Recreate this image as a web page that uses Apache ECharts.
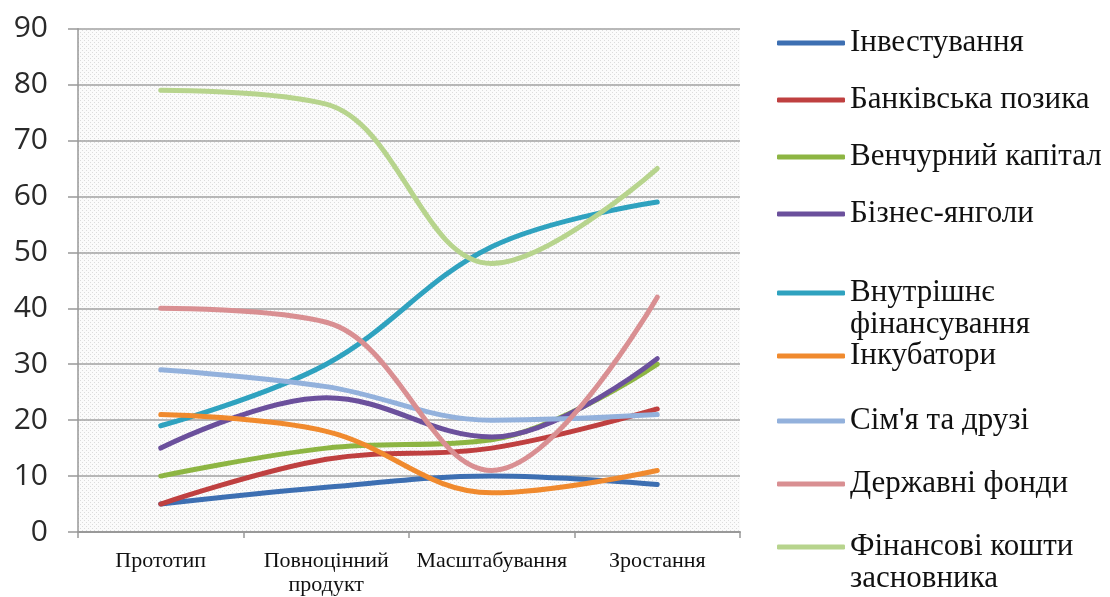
<!DOCTYPE html>
<html><head><meta charset="utf-8">
<script src="https://cdn.jsdelivr.net/npm/echarts@6/dist/echarts.min.js"></script>
<style>html,body{margin:0;padding:0;background:#fff}#c{width:1110px;height:597px}</style>
</head><body><div id="c"></div>
<script>
// ---- data ----
const categories = ['Прототип', 'Повноцінний\nпродукт', 'Масштабування', 'Зростання'];
const seriesNames = ['Інвестування', 'Банківська позика', 'Венчурний капітал', 'Бізнес-янголи',
  'Внутрішнє фінансування', 'Інкубатори', "Сім'я та друзі", 'Державні фонди', 'Фінансові кошти засновника'];
const investuvannia = [5, 8, 10, 8.5];
const bankivskaPozyka = [5, 13, 15, 22];
const venchurnyiKapital = [10, 15, 16.5, 30];
const biznesYanholy = [15, 24, 17, 31];
const vnutrishnieFinansuvannia = [19, 30, 51, 59];
const inkubatory = [21, 18, 7, 11];
const simiaTaDruzi = [29, 26, 20, 21];
const derzhavniFondy = [40, 37.5, 11, 42];
const finansoviKoshty = [79, 76.5, 48, 65];
const yMin = 0, yMax = 90, yStep = 10;

const seriesValues = [investuvannia, bankivskaPozyka, venchurnyiKapital, biznesYanholy,
  vnutrishnieFinansuvannia, inkubatory, simiaTaDruzi, derzhavniFondy, finansoviKoshty];

// ---- styles / layout ----
const colors = ['#3d6fb2', '#bf4040', '#8db543', '#6b509c', '#2fa2bf', '#f08a2e', '#93b1dc', '#d98f92', '#b7d48d'];
const legendCenters = [43, 100, 157, 214, 293, 356, 421, 484, 547];
const twoLine = [false, false, false, false, true, false, false, false, true];
const LH = 32;

const pc = document.createElement('canvas');
pc.width = 4; pc.height = 4;
const pctx = pc.getContext('2d');
pctx.fillStyle = '#fbfbfb'; pctx.fillRect(0, 0, 4, 4);
pctx.fillStyle = '#dcdcdc'; pctx.fillRect(0, 0, 1, 1); pctx.fillRect(2, 2, 1, 1);

const chart = echarts.init(document.getElementById('c'), null, {renderer: 'canvas'});
chart.setOption({
  animation: false,
  backgroundColor: '#ffffff',
  grid: {left: 78, right: 370, top: 28.7, bottom: 64, show: true, borderWidth: 0,
    backgroundColor: {image: pc, repeat: 'repeat'}},
  legend: seriesNames.map((n, i) => ({
    data: [n], orient: 'vertical', left: 777,
    top: twoLine[i] ? legendCenters[i] - 1.5 * LH : legendCenters[i] - LH / 2,
    padding: 0, icon: 'roundRect', itemWidth: 68, itemHeight: 5, selectedMode: false,
    formatter: (name) => {
      if (!twoLine[i]) return name;
      const k = name.lastIndexOf(' ');
      return ' \n' + name.slice(0, k) + '\n' + name.slice(k + 1);
    },
    textStyle: {fontFamily: 'Liberation Serif', fontSize: 31, lineHeight: LH, color: '#111'}
  })),
  xAxis: {
    type: 'category', data: categories, boundaryGap: true,
    axisLine: {show: true, lineStyle: {color: '#999', width: 2}},
    axisTick: {show: true, length: 6, lineStyle: {color: '#999', width: 1.5}},
    axisLabel: {interval: 0, margin: 17, fontFamily: 'Liberation Serif', fontSize: 22, lineHeight: 24, color: '#111'},
    splitLine: {show: false}
  },
  yAxis: {
    type: 'value', min: yMin, max: yMax, interval: yStep,
    axisLine: {show: true, lineStyle: {color: '#999', width: 1.5}},
    axisTick: {show: true, length: 10, lineStyle: {color: '#999', width: 1.5}},
    axisLabel: {margin: 30, fontFamily: 'Open Sans', fontSize: 30, color: '#2a2a2a'},
    splitLine: {show: true, lineStyle: {color: '#a2a2a2', width: 1.5}}
  },
  series: seriesNames.map((n, i) => ({
    name: n, type: 'line', data: seriesValues[i], smooth: 0.38, symbol: 'none',
    color: colors[i],
    lineStyle: {width: 5, color: colors[i], cap: 'round'}
  }))
});
</script></body></html>
